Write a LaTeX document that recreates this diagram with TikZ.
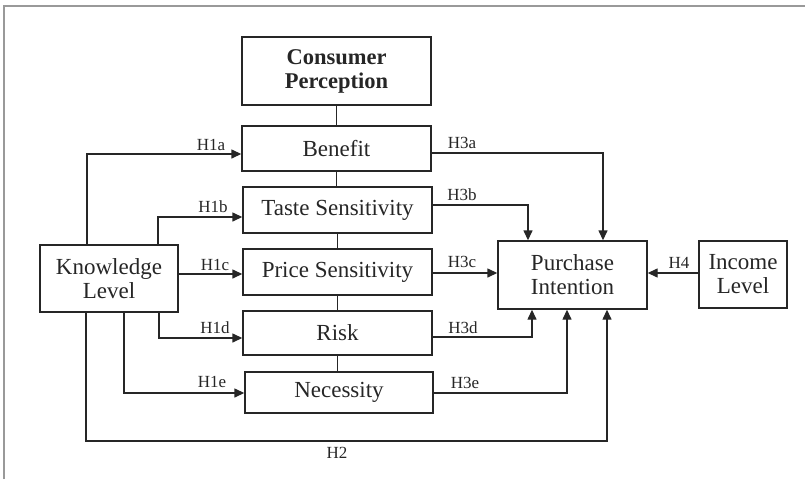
\documentclass[tikz,border=0pt]{standalone}
\usepackage{fontspec}
\setmainfont{Liberation Serif}
\usetikzlibrary{arrows.meta,calc}
\begin{document}
\begin{tikzpicture}[x=1pt,y=-1pt,
  box/.style={draw=black!85,line width=1.4pt,inner sep=0pt,align=center,
    font=\fontsize{23}{24}\selectfont,text=black!85},
  lab/.style={font=\fontsize{17}{18}\selectfont,text=black!85,inner sep=0pt},
  link/.style={draw=black!85,line width=1.4pt},
  arr/.style={link,-{Triangle[length=10pt,width=9pt]}}]
\useasboundingbox (0,0) rectangle (805,479);
% frame
\draw[gray!80,line width=1.5pt] (4,479) -- (4,6) -- (805,6);
% boxes
\node[box,minimum width=189,minimum height=68,font=\bfseries\fontsize{22.5}{24}\selectfont] (cp) at (336.5,71) {Consumer\\Perception};
\node[box,minimum width=189,minimum height=45] (ben) at (336.5,148.5) {Benefit};
\node[box,minimum width=189,minimum height=46] (tas) at (337.5,210) {Taste Sensitivity};
\node[box,minimum width=189,minimum height=46] (pri) at (337.5,272) {Price Sensitivity};
\node[box,minimum width=189,minimum height=44] (ris) at (337.5,333) {Risk};
\node[box,minimum width=188,minimum height=41] (nec) at (339,392.5) {Necessity};
\node[box,minimum width=138,minimum height=67] (kl) at (109,278.5) {Knowledge\\Level};
\node[box,minimum width=149,minimum height=68] (pi) at (572.5,275) {Purchase\\Intention};
\node[box,minimum width=88,minimum height=67] (il) at (743,274.5) {Income\\Level};
% vertical links
\draw[link] (cp.south) -- (ben.north);
\draw[link] (ben.south) -- (ben.south |- tas.north);
\draw[link] (tas.south) -- (tas.south |- pri.north);
\draw[link] (pri.south) -- (pri.south |- ris.north);
\draw[link] (ris.south) -- (ris.south |- nec.north);
% H1 arrows
\coordinate (a1) at ([yshift=-5.5]ben.west);
\coordinate (b1) at ([yshift=-7]tas.west);
\coordinate (c1) at ([yshift=-2]pri.west);
\coordinate (d1) at ([yshift=-5]ris.west);
\coordinate (e1) at ([yshift=-0.5]nec.west);
\draw[arr] (kl.north -| 87,0) |- (a1);
\draw[arr] (kl.north -| 158,0) |- (b1);
\draw[arr] (kl.east |- c1) -- (c1);
\draw[arr] (kl.south -| 159,0) |- (d1);
\draw[arr] (kl.south -| 124,0) |- (e1);
% H3 arrows
\coordinate (a3) at ([yshift=-4.5]ben.east);
\coordinate (b3) at ([yshift=5]tas.east);
\coordinate (c3) at ([yshift=-1]pri.east);
\coordinate (d3) at ([yshift=-4]ris.east);
\coordinate (e3) at ([yshift=-0.5]nec.east);
\draw[arr] (a3) -| (pi.north -| 603,0);
\draw[arr] (b3) -| (pi.north -| 528,0);
\draw[arr] (c3) -- (pi.west |- c3);
\draw[arr] (d3) -| (pi.south -| 532,0);
\draw[arr] (e3) -| (pi.south -| 567,0);
% H2
\coordinate (h2) at (86,441);
\draw[arr] (kl.south -| h2) -- (h2) -| (pi.south -| 607,0);
% H4
\draw[arr] (il.west |- c3) -- (pi.east |- c3);
% labels
\node[lab] (l1a) at (211,145) {H1a};
\node[lab] (l1b) at (213,207) {H1b};
\node[lab] (l1c) at (215,265) {H1c};
\node[lab] (l1d) at (215,328) {H1d};
\node[lab] (l1e) at (212,382) {H1e};
\node[lab] (l3a) at (462,143) {H3a};
\node[lab] (l3b) at (462,195) {H3b};
\node[lab] (l3c) at (462,262) {H3c};
\node[lab] (l3d) at (463,328) {H3d};
\node[lab] (l3e) at (465,383) {H3e};
\node[lab] (l4) at (679,263) {H4};
\node[lab] (l2) at (337,453) {H2};
\end{tikzpicture}
\end{document}
